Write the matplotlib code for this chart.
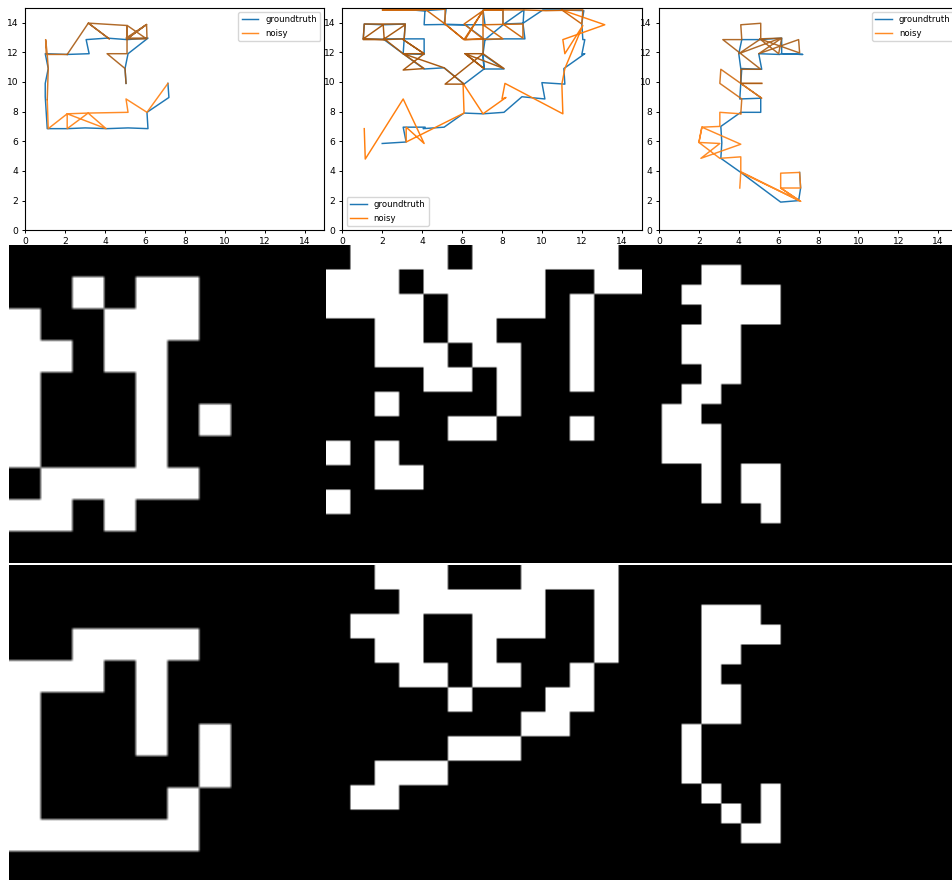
import numpy as np
import matplotlib
matplotlib.use('Agg')
import matplotlib.pyplot as plt

# trajectories
truth_1_x = [7.15, 7.2, 6.1, 6.15, 5.15, 4.1, 3.0, 2.1, 1.1, 1.0, 1.0, 1.15, 1.0, 2.1, 3.2, 3.05, 4.1, 5.1, 6.15, 5.15, 5.0, 5.05]
truth_1_y = [9.9, 8.95, 7.95, 6.85, 6.9, 6.85, 6.9, 6.85, 6.85, 9.0, 9.9, 10.9, 11.9, 11.85, 11.9, 12.85, 12.95, 12.85, 12.95, 11.9, 10.9, 9.9]
noisy_1_x = [7.15, 6.1, 5.05, 5.15, 3.15, 4.05, 2.1, 2.1, 3.15, 2.1, 1.15, 1.1, 1.15, 1.1, 1.02, 1.05, 2.1, 3.16, 4.21, 3.16, 5.11, 5.1, 6.08, 5.05, 6.1, 6.08, 5.1, 5.11, 6.08, 5.1, 5.1, 4.1, 5.0, 5.05]
noisy_1_y = [9.9, 7.95, 8.85, 7.95, 7.9, 6.85, 7.85, 6.85, 7.9, 7.85, 6.85, 8.8, 10.9, 11.85, 12.85, 11.85, 11.85, 13.96, 12.9, 13.96, 13.8, 12.9, 13.87, 12.95, 12.95, 13.87, 12.9, 13.8, 12.9, 12.9, 11.9, 11.9, 10.9, 9.9]

truth_2_x = [2.0, 3.2, 3.05, 4.15, 4.05, 5.1, 6.1, 7.05, 8.1, 9.0, 10.15, 10.0, 11.15, 11.1, 12.15, 12.0, 12.15, 12.05, 12.0, 12.1, 11.0, 10.05, 9.06, 9.1, 8.1, 7.15, 8.1, 9.15, 9.05, 8.05, 8.05, 7.05, 7.15, 6.15, 5.1, 5.2, 4.14, 3.14, 4.14, 4.1, 5.1, 6.15, 7.15, 7.05, 7.1, 8.1, 7.05, 7.1, 6.1, 5.1, 4.1, 3.05, 4.1, 4.1, 3.1, 3.05, 2.07, 1.05, 1.1, 2.05, 3.15, 3.1, 2.07]
truth_2_y = [5.85, 5.95, 6.95, 6.95, 6.85, 6.95, 7.9, 7.85, 7.95, 9.0, 8.85, 9.95, 9.85, 10.9, 11.9, 11.85, 12.85, 12.85, 13.95, 14.8, 14.85, 14.85, 13.96, 14.85, 13.9, 12.85, 12.9, 12.9, 13.95, 13.9, 14.85, 14.85, 13.85, 13.85, 13.87, 14.9, 14.8, 14.86, 14.8, 13.85, 13.87, 13.85, 12.85, 11.9, 10.87, 10.87, 11.85, 10.87, 9.85, 10.95, 10.87, 11.9, 11.85, 12.9, 12.9, 11.9, 12.87, 12.9, 13.9, 13.85, 13.9, 12.9, 12.9]
noisy_2_x = [1.1, 1.15, 3.05, 4.1, 3.2, 3.2, 6.1, 6.05, 7.05, 8.2, 8.0, 8.15, 11.05, 11.0, 11.15, 12.05, 11.15, 11.05, 13.15, 11.0, 12.0, 12.05, 10.2, 9.1, 7.1, 8.05, 8.05, 9.05, 9.05, 7.05, 8.05, 6.15, 7.05, 7.05, 6.1, 7.05, 6.1, 5.15, 5.15, 2.0, 4.2, 5.15, 6.1, 7.05, 7.05, 8.1, 6.15, 7.1, 6.15, 7.05, 5.15, 6.1, 5.1, 3.05, 4.1, 3.05, 4.1, 3.05, 4.1, 3.05, 2.1, 3.15, 3.1, 2.1, 2.05, 1.05, 2.1, 1.05, 1.1, 3.15]
noisy_2_y = [6.85, 4.8, 8.85, 5.85, 6.95, 5.95, 7.9, 9.9, 7.85, 8.95, 8.85, 9.9, 7.85, 9.85, 10.9, 13.8, 11.9, 12.85, 13.85, 14.85, 13.9, 14.85, 14.8, 14.85, 14.85, 14.85, 13.9, 12.95, 13.9, 13.85, 12.9, 12.85, 14.8, 12.9, 13.9, 14.8, 12.85, 13.9, 14.9, 14.85, 14.85, 13.9, 12.85, 12.9, 11.9, 10.9, 11.9, 10.9, 11.9, 11.9, 9.85, 9.85, 10.95, 11.9, 10.9, 10.8, 11.9, 12.85, 11.9, 11.9, 12.9, 13.85, 12.9, 12.85, 13.85, 12.9, 12.85, 12.85, 13.9, 13.9]

truth_3_x = [7.05, 7.1, 7.0, 6.1, 4.1, 3.1, 3.15, 3.1, 4.1, 5.1, 5.1, 4.05, 4.1, 4.15, 5.15, 5.0, 6.05, 6.15, 7.2, 6.15, 6.15, 5.05, 4.15, 4.0, 4.1]
truth_3_y = [3.9, 2.85, 2.0, 1.9, 3.9, 4.85, 5.9, 7.0, 7.95, 7.95, 8.9, 8.85, 9.9, 10.9, 10.85, 11.9, 11.85, 11.9, 11.85, 11.9, 12.95, 12.85, 12.85, 11.9, 10.9]
noisy_3_x = [4.05, 4.1, 7.1, 6.1, 6.1, 7.05, 7.1, 6.1, 7.1, 4.1, 4.1, 3.05, 2.0, 3.05, 2.1, 4.1, 2.15, 2.0, 2.15, 3.05, 3.05, 4.1, 4.15, 3.05, 3.1, 5.15, 4.1, 5.15, 4.1, 4.1, 5.1, 3.2, 4.15, 4.1, 5.1, 5.1, 4.0, 6.1, 5.05, 6.0, 6.15, 5.0, 7.0, 7.05, 5.05]
noisy_3_y = [2.85, 3.9, 1.95, 2.85, 3.85, 3.9, 2.85, 2.85, 1.95, 3.95, 4.95, 4.85, 5.92, 5.85, 4.85, 5.8, 6.95, 5.92, 6.95, 7.0, 7.95, 7.85, 8.85, 9.9, 10.85, 8.9, 9.9, 9.9, 9.9, 10.85, 10.85, 12.85, 12.85, 13.85, 13.95, 12.9, 11.9, 12.95, 12.9, 11.9, 12.95, 11.9, 12.85, 11.95, 12.9]

# where the noisy line turns darker along each path
noisy_1_breaks = [0, 11, 16]
noisy_2_breaks = [0, 19, 43]
noisy_3_breaks = [0, 21, 27]

ticks = [0, 2, 4, 6, 8, 10, 12, 14]

# binary maps, one string per row
map_1_top = ['0000000000', '0010110000', '1001110000', '1101100000', '1000100000',
             '1000101000', '1000100000', '0111110000', '1101000000', '0000000000']
map_1_bottom = ['0000000000', '0000000000', '0011110000', '1110100000', '1000100000',
                '1000101000', '1000001000', '1000010000', '1111110000', '0000000000']
map_2_top = ['0111101111110', '1110111110011', '1111011110100', '0011011000100', '0011101100100',
             '0000110100100', '0010000100000', '0000011000100', '1010000000000', '0011000000000',
             '1000000000000', '0000000000000', '0000000000000']
map_2_bottom = ['0011100011110', '0001111110010', '0111001110010', '0011001000010', '0001101100100',
                '0000010001100', '0000000011000', '0000011100000', '0011100000000', '0110000000000',
                '0000000000000', '0000000000000', '0000000000000']
map_3_top = ['0000000000000000', '0001100000000000', '0011111000000000', '0001111000000000',
             '0011100000000000', '0011100000000000', '0001100000000000', '0011000000000000',
             '0110000000000000', '0111000000000000', '0111000000000000', '0001011000000000',
             '0001011000000000', '0000001000000000', '0000000000000000', '0000000000000000']
map_3_bottom = ['0000000000000000', '0000000000000000', '0001110000000000', '0001111000000000',
                '0001100000000000', '0001000000000000', '0001100000000000', '0001100000000000',
                '0010000000000000', '0010000000000000', '0010000000000000', '0001001000000000',
                '0000101000000000', '0000011000000000', '0000000000000000', '0000000000000000']

W, H = 953, 880
fig = plt.figure(figsize=(W / 100, H / 100), dpi=100)


def px_axes(x0, y0, x1, y1):
    return fig.add_axes([x0 / W, 1 - y1 / H, (x1 - x0) / W, (y1 - y0) / H])


def plot_paths(box, tx, ty, nx, ny, breaks, loc, alpha):
    ax = px_axes(*box)
    ax.plot(tx, ty, color='#1f77b4', lw=1.05, label='groundtruth')
    colors = ['#ff7f0e', '#cf6a10', '#a85a12']
    stops = breaks + [len(nx) - 1]
    for i in range(3):
        a, b = stops[i], stops[i + 1]
        ax.plot(nx[a:b + 1], ny[a:b + 1], color=colors[i], lw=1.05, alpha=alpha,
                label='noisy' if i == 0 else None)
    ax.set_xlim(0, 15)
    ax.set_ylim(0, 15)
    ax.set_xticks(ticks)
    ax.set_yticks(ticks)
    ax.tick_params(labelsize=6.6, length=2.5, width=0.7, pad=2.5)
    for s in ax.spines.values():
        s.set_linewidth(0.8)
    ax.legend(loc=loc, fontsize=6.1)
    return ax


def show_map(box, rows, scale):
    ax = px_axes(*box)
    grid = np.array([[int(c) for c in r] for r in rows], dtype=float)
    # small repeat + bilinear gives the soft cell edges of the original
    ax.imshow(np.kron(grid, np.ones((scale, scale))), cmap='gray', vmin=0, vmax=1,
              interpolation='bilinear', aspect='auto')
    ax.axis('off')


plot_paths((25.3, 7.7, 324.5, 230.3), truth_1_x, truth_1_y, noisy_1_x, noisy_1_y, noisy_1_breaks, 'upper right', 0.9)
plot_paths((342.3, 7.7, 641.7, 230.3), truth_2_x, truth_2_y, noisy_2_x, noisy_2_y, noisy_2_breaks, 'lower left', 1.0)
plot_paths((659, 7.7, 958.2, 230.3), truth_3_x, truth_3_y, noisy_3_x, noisy_3_y, noisy_3_breaks, 'upper right', 0.9)

show_map((9, 245, 325.5, 562.7), map_1_top, 10)
show_map((325.5, 245, 642, 562.7), map_2_top, 12)
show_map((642, 245, 958.5, 562.7), map_3_top, 10)
show_map((9, 565, 325.5, 882.7), map_1_bottom, 10)
show_map((325.5, 565, 642, 882.7), map_2_bottom, 12)
show_map((642, 565, 958.5, 882.7), map_3_bottom, 10)

fig.savefig('out.png', dpi=100)
